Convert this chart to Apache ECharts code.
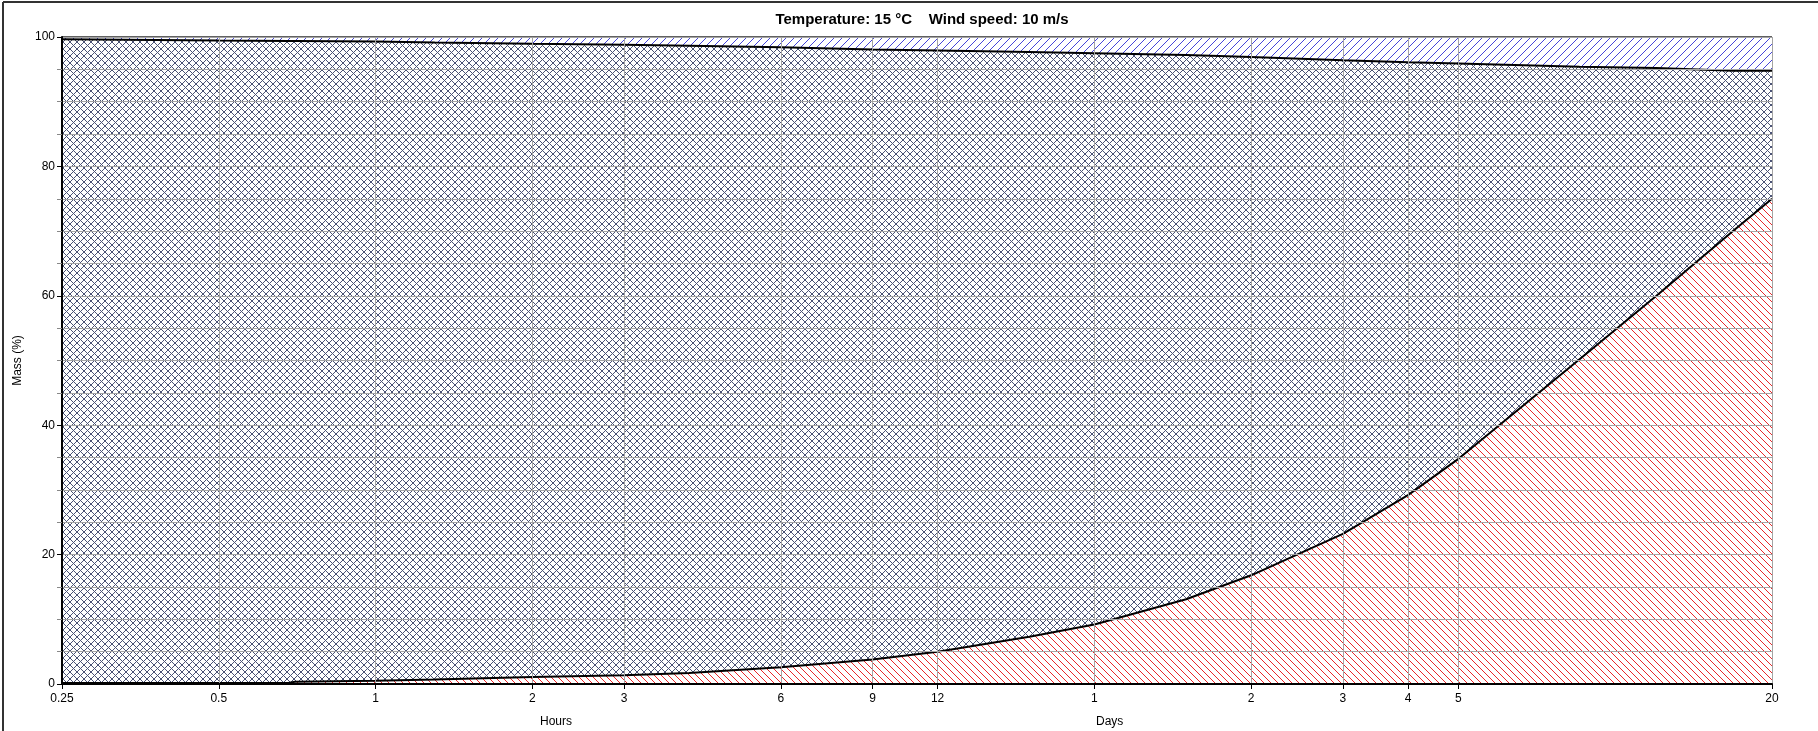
<!DOCTYPE html>
<html>
<head>
<meta charset="utf-8">
<script src="https://cdn.jsdelivr.net/npm/echarts@6/dist/echarts.min.js"></script>
<style>
  html, body { margin: 0; padding: 0; background: #fff; }
  #chart { width: 1818px; height: 731px; }
</style>
</head>
<body>
<div id="chart"></div>
<script>
// sample times in hours
const hours = [0.25, 0.5, 0.68, 0.7, 1, 1.3, 2, 3, 4, 6, 9, 12, 18, 24, 36, 48, 72, 96, 120, 205, 288, 404, 480]
// evaporated mass (%)
const evaporated = [0.15, 0.15, 0.15, 0.35, 0.5, 0.7, 1.1, 1.35, 1.7, 2.6, 3.8, 5.0, 7.3, 9.2, 13.1, 16.8, 23.2, 29.2, 34.8, 50.2, 60.0, 70.0, 75.0]
// naturally dispersed mass (%)
const dispersed = [0.35, 0.55, 0.6, 0.6, 0.7, 0.85, 1.05, 1.2, 1.35, 1.6, 1.95, 2.1, 2.3, 2.5, 2.8, 3.1, 3.6, 3.9, 4.1, 4.6, 4.8, 5.2, 5.2]

const xTicks = [0.25, 0.5, 1, 2, 3, 6, 9, 12, 24, 48, 72, 96, 120, 480]

const total = hours.map(() => 100)
const surfaceTop = dispersed.map((d) => 100 - d)

const toPairs = (vals) => hours.map((h, i) => [h, vals[i]])

const hatch = (size, color, dirs) => {
  const c = document.createElement('canvas')
  c.width = size
  c.height = size
  const ctx = c.getContext('2d')
  ctx.fillStyle = '#fff'
  ctx.fillRect(0, 0, size, size)
  ctx.strokeStyle = color
  ctx.lineWidth = 1
  dirs.forEach((d) => {
    ctx.beginPath()
    if (d === '/') {
      ctx.moveTo(-1, size + 1); ctx.lineTo(size + 1, -1)
      ctx.moveTo(-1, 1); ctx.lineTo(1, -1)
      ctx.moveTo(size - 1, size + 1); ctx.lineTo(size + 1, size - 1)
    } else {
      ctx.moveTo(-1, -1); ctx.lineTo(size + 1, size + 1)
      ctx.moveTo(size - 1, -1); ctx.lineTo(size + 1, 1)
      ctx.moveTo(-1, size - 1); ctx.lineTo(1, size + 1)
    }
    ctx.stroke()
  })
  return { image: c, repeat: 'repeat' }
}

const blueHatch = hatch(8, '#4646d8', ['/'])
const crossHatch = hatch(7, '#4a5275', ['/', '\\'])
const redHatch = hatch(7, '#e8282a', ['\\'])

const fmtX = (v) => {
  if (v < 24) return String(v)
  return String(Math.round(v / 24))
}

const chart = echarts.init(document.getElementById('chart'))

chart.setOption({
  animation: false,
  title: {
    text: 'Temperature: 15 °C    Wind speed: 10 m/s',
    left: 917,
    textAlign: 'center',
    top: 7,
    textStyle: { fontFamily: 'Liberation Sans', fontSize: 15, fontWeight: 'bold', color: '#000' },
  },
  grid: { left: 62, right: 46, top: 37, bottom: 47, show: true, borderColor: '#000', borderWidth: 1 },
  xAxis: {
    type: 'log',
    min: 0.25,
    max: 480,
    z: 5,
    axisLine: { lineStyle: { color: '#000', width: 2 } },
    axisTick: { show: true, length: 5, customValues: xTicks, lineStyle: { color: '#000' } },
    axisLabel: {
      customValues: xTicks,
      formatter: fmtX,
      fontFamily: 'Liberation Sans',
      fontSize: 12,
      color: '#000',
      margin: 9,
    },
    splitLine: { show: true, lineStyle: { color: '#a4a4a4', width: 1 } },
    minorTick: { show: false },
    minorSplitLine: { show: false },
  },
  yAxis: {
    type: 'value',
    min: 0,
    max: 100,
    interval: 20,
    z: 5,
    name: 'Mass (%)',
    nameLocation: 'middle',
    nameGap: 32,
    nameTextStyle: { fontFamily: 'Liberation Sans', fontSize: 12, color: '#000' },
    axisLine: { show: true, lineStyle: { color: '#000', width: 2 } },
    axisTick: { show: true, length: 5, lineStyle: { color: '#000' } },
    minorTick: { show: true, splitNumber: 4, length: 5, lineStyle: { color: '#888' } },
    axisLabel: { fontFamily: 'Liberation Sans', fontSize: 12, color: '#000', margin: 7 },
    splitLine: { show: true, lineStyle: { color: '#a4a4a4', width: 1 } },
    minorSplitLine: { show: true, lineStyle: { color: '#a4a4a4', width: 1 } },
  },
  series: [
    {
      name: 'Dispersed',
      type: 'line',
      data: toPairs(total),
      showSymbol: false,
      lineStyle: { color: '#000', width: 1 },
      areaStyle: { color: blueHatch, opacity: 1, origin: 'start' },
    },
    {
      name: 'Surface',
      type: 'line',
      data: toPairs(surfaceTop),
      showSymbol: false,
      lineStyle: { color: '#000', width: 2 },
      areaStyle: { color: crossHatch, opacity: 1, origin: 'start' },
    },
    {
      name: 'Evaporated',
      type: 'line',
      data: toPairs(evaporated),
      showSymbol: false,
      lineStyle: { color: '#000', width: 2 },
      areaStyle: { color: redHatch, opacity: 1, origin: 'start' },
    },
  ],
  graphic: [
    { type: 'line', shape: { x1: 3, y1: 2, x2: 1818, y2: 2 }, style: { stroke: '#333', lineWidth: 2 } },
    { type: 'line', shape: { x1: 3, y1: 2, x2: 3, y2: 731 }, style: { stroke: '#333', lineWidth: 2 } },
    { type: 'text', left: 540, top: 716, style: { text: 'Hours', font: '12px "Liberation Sans"', fill: '#000' } },
    { type: 'text', left: 1096, top: 716, style: { text: 'Days', font: '12px "Liberation Sans"', fill: '#000' } },
  ],
})
</script>
</body>
</html>
